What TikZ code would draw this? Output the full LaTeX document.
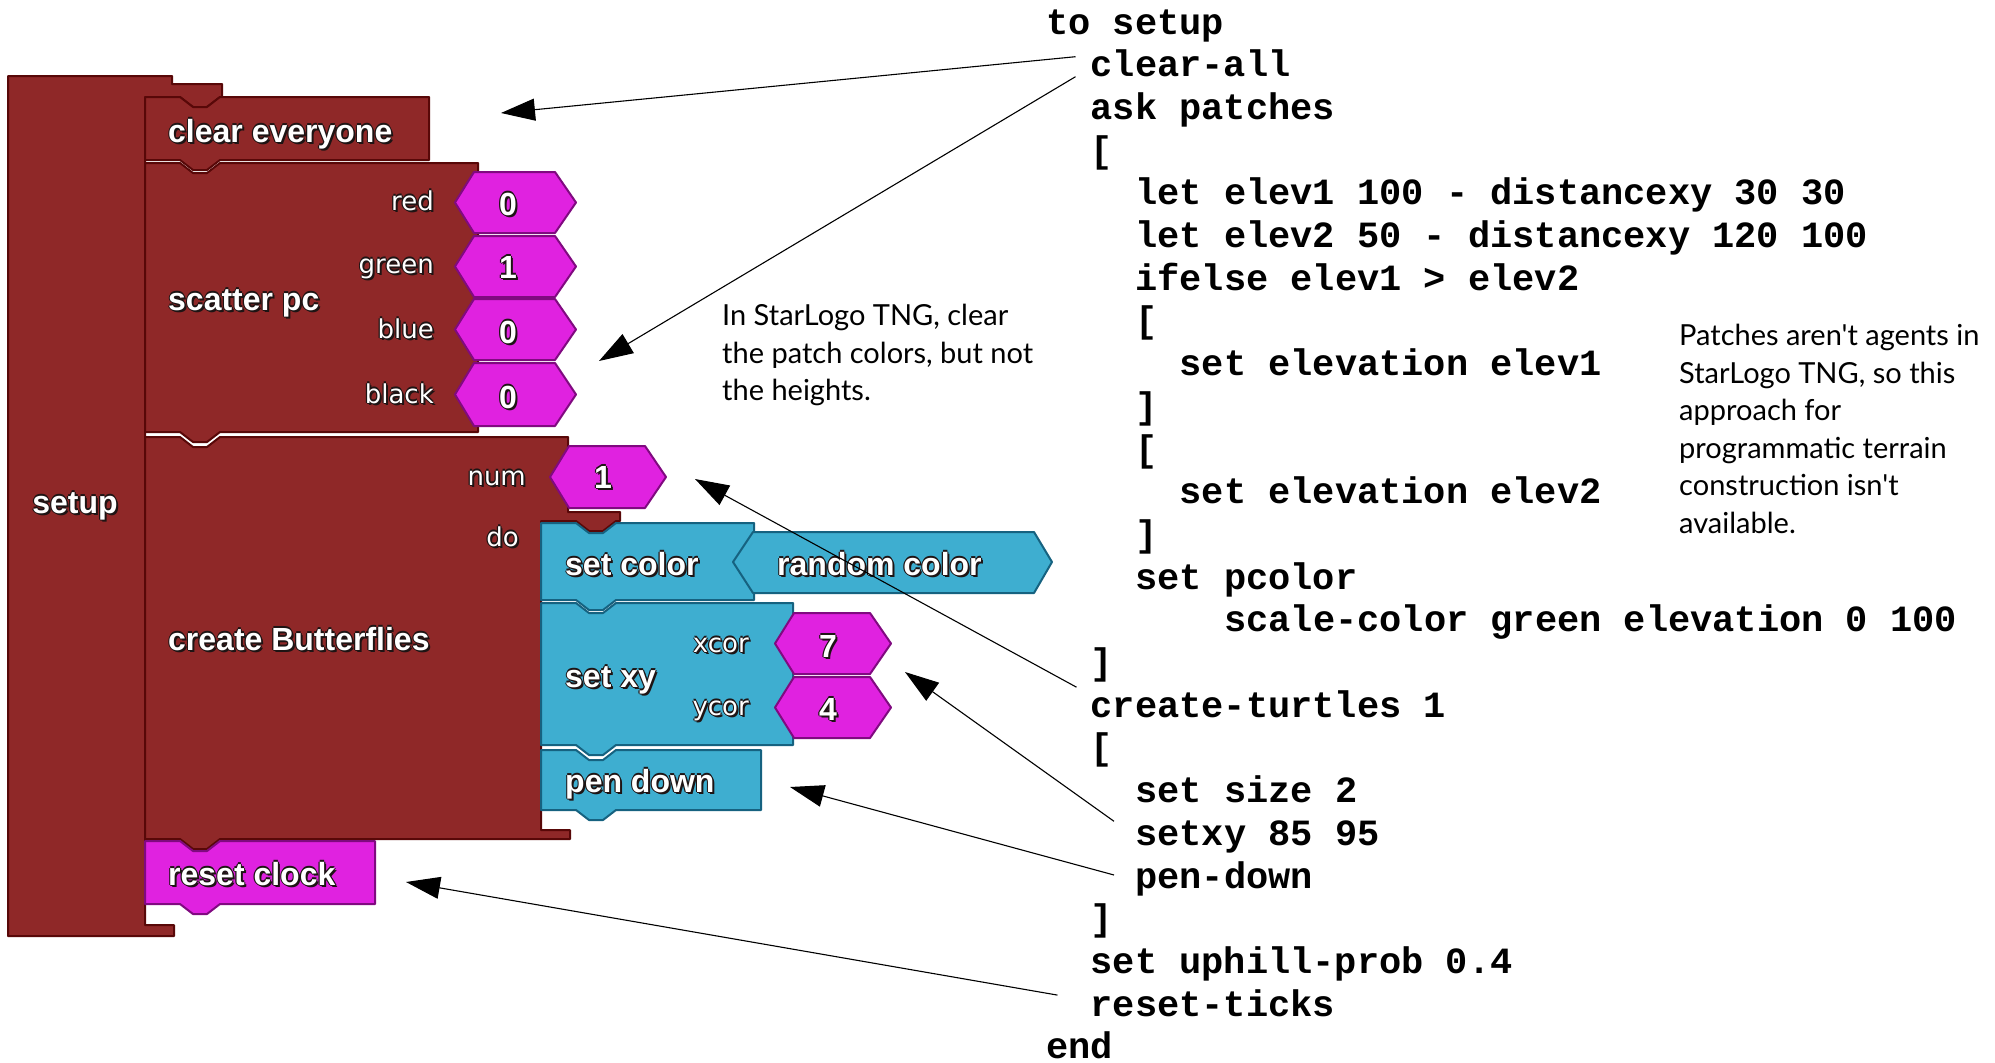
\documentclass[tikz,border=0pt]{standalone}
\usepackage{fontspec}
\usetikzlibrary{arrows.meta}

\newfontfamily\codefont{Liberation Mono}
\newfontfamily\blockfont{Liberation Sans}
\newfontfamily\labelfont{DejaVu Sans}
\newfontfamily\notefont{Lato}

\definecolor{slred}{RGB}{143,40,40}
\definecolor{slredline}{RGB}{88,8,8}
\definecolor{slpink}{RGB}{224,34,224}
\definecolor{slpinkline}{RGB}{128,10,128}
\definecolor{slteal}{RGB}{62,174,208}
\definecolor{sltealline}{RGB}{22,98,128}
\definecolor{shadowc}{RGB}{30,20,20}

% white block text with a dark rim
\newcommand\sltext[1]{%
  \makebox[0pt][l]{\hspace{2pt}\raisebox{-2pt}{\color{shadowc}#1}}%
  \makebox[0pt][l]{\hspace{-1.2pt}\color{shadowc}#1}%
  \makebox[0pt][l]{\hspace{1.2pt}\color{shadowc}#1}%
  \makebox[0pt][l]{\raisebox{1.2pt}{\color{shadowc}#1}}%
  \makebox[0pt][l]{\raisebox{-1.2pt}{\color{shadowc}#1}}%
  #1}

% style, left, top, right, bottom
\newcommand\stackblock[5]{%
  \filldraw[#1] (#2,#3) -- (#2+35,#3) -- (#2+48,#3+10) -- (#2+62,#3+10) -- (#2+75,#3)
    -- (#4,#3) -- (#4,#5) -- (#2+75,#5) -- (#2+62,#5+10) -- (#2+48,#5+10)
    -- (#2+35,#5) -- (#2,#5) -- cycle;}

% left, right, top, bottom
\newcommand\hexblock[4]{%
  \filldraw[pinkblock] (#1,{(#3+#4)/2}) -- (#1+19,#3) -- (#2-21,#3)
    -- (#2,{(#3+#4)/2}) -- (#2-21,#4) -- (#1+19,#4) -- cycle;}

\tikzset{
  redblock/.style={fill=slred, draw=slredline, line width=2pt, line join=round},
  pinkblock/.style={fill=slpink, draw=slpinkline, line width=2pt, line join=round},
  tealblock/.style={fill=slteal, draw=sltealline, line width=2pt, line join=round},
  blocklabel/.style={text=white, inner sep=0pt, font=\blockfont\bfseries\fontsize{32}{36}\selectfont},
  socketlabel/.style={text=white, inner sep=0pt, anchor=base east, font=\labelfont\fontsize{26}{30}\selectfont},
  digit/.style={blocklabel, anchor=base},
  code/.style={inner sep=0pt, anchor=base west, font=\codefont\bfseries\fontsize{37}{44}\selectfont},
  note/.style={inner sep=0pt, anchor=north west, align=left, font=\notefont\fontsize{29}{37.5}\selectfont},
  pointer/.style={-{Triangle[length=34pt,width=22pt]}, line width=1.1pt}
}

\begin{document}
\begin{tikzpicture}[x=1pt,y=-1pt]
  \useasboundingbox (0,0) rectangle (1995,1063);
  \fill[white] (0,0) rectangle (1995,1063);

  % the StarLogo blocks
  \filldraw[redblock] (8,76) -- (172,76) -- (172,84) -- (222,84) -- (222,97) -- (220,97)
    -- (207,107) -- (193,107) -- (180,97) -- (145,97) -- (145,925) -- (174,925)
    -- (174,936) -- (8,936) -- cycle;
  \stackblock{redblock}{145}{97}{429}{160}
  \stackblock{redblock}{145}{163}{478}{432}
  \filldraw[redblock] (145,437) -- (180,437) -- (193,447) -- (207,447) -- (220,437)
    -- (568,437) -- (568,512) -- (620,512) -- (620,521) -- (616,521) -- (603,531)
    -- (589,531) -- (576,521) -- (541,521) -- (541,830) -- (570,830) -- (570,839)
    -- (220,839) -- (207,849) -- (193,849) -- (180,839) -- (145,839) -- cycle;
  \stackblock{pinkblock}{145}{841}{375}{904}
  \stackblock{tealblock}{541}{523}{754}{600}
  \stackblock{tealblock}{541}{603}{793}{745}
  \stackblock{tealblock}{541}{750}{761}{810}
  \filldraw[tealblock] (733,562) -- (753,532) -- (1034,532) -- (1052,562)
    -- (1034,593) -- (753,593) -- cycle;

  \hexblock{455}{576}{172}{233}
  \hexblock{455}{576}{236}{297}
  \hexblock{455}{576}{299}{360}
  \hexblock{455}{576}{363}{426}
  \hexblock{550}{666}{446}{508}
  \hexblock{775}{891}{613}{674}
  \hexblock{775}{891}{677}{738}

  \node[blocklabel, anchor=base] (b_setup) at (75,513) {\sltext{setup}};
  \node[blocklabel, anchor=base west] (b_clear) at (168,142) {\sltext{clear everyone}};
  \node[blocklabel, anchor=base west] (b_scatter) at (168,310) {\sltext{scatter pc}};
  \node[blocklabel, anchor=base west] (b_create) at (168,650) {\sltext{create Butterflies}};
  \node[blocklabel, anchor=base west] (b_reset) at (168,885) {\sltext{reset clock}};
  \node[blocklabel, anchor=base west] (b_setcolor) at (565,575) {\sltext{set color}};
  \node[blocklabel, anchor=base west] (b_random) at (777,575) {\sltext{random color}};
  \node[blocklabel, anchor=base west] (b_setxy) at (565,687) {\sltext{set xy}};
  \node[blocklabel, anchor=base west] (b_pendown) at (565,792) {\sltext{pen down}};

  \node[socketlabel] (s_red) at (434,210) {\sltext{red}};
  \node[socketlabel] (s_green) at (434,273) {\sltext{green}};
  \node[socketlabel] (s_blue) at (434,338) {\sltext{blue}};
  \node[socketlabel] (s_black) at (434,403) {\sltext{black}};
  \node[socketlabel] (s_num) at (526,485) {\sltext{num}};
  \node[socketlabel] (s_do) at (519,546) {\sltext{do}};
  \node[socketlabel] (s_xcor) at (749,652) {\sltext{xcor}};
  \node[socketlabel] (s_ycor) at (749,715) {\sltext{ycor}};

  \node[digit] (d_red) at (508,215) {\sltext{0}};
  \node[digit] (d_green) at (508,278) {\sltext{1}};
  \node[digit] (d_blue) at (508,343) {\sltext{0}};
  \node[digit] (d_black) at (508,408) {\sltext{0}};
  \node[digit] (d_num) at (603,488) {\sltext{1}};
  \node[digit] (d_xcor) at (828,657) {\sltext{7}};
  \node[digit] (d_ycor) at (828,720) {\sltext{4}};

  % the NetLogo code, one node per line
  \foreach \i/\ind/\txt in {0/0/to setup, 1/2/clear-all, 2/2/ask patches, 3/2/{[},
      4/4/let elev1 100 - distancexy 30 30, 5/4/let elev2 50 - distancexy 120 100,
      6/4/ifelse elev1 > elev2, 7/4/{[}, 8/6/set elevation elev1, 9/4/{]}, 10/4/{[},
      11/6/set elevation elev2, 12/4/{]}, 13/4/set pcolor,
      14/8/scale-color green elevation 0 100, 15/2/{]}, 16/2/create-turtles 1,
      17/2/{[}, 18/4/set size 2, 19/4/setxy 85 95, 20/4/pen-down, 21/2/{]},
      22/2/set uphill-prob 0.4, 23/2/reset-ticks, 24/0/end}
    \node[code] (c_\i) at ({1046+22.25*\ind},{34+42.7*\i}) {\txt};

  \node[note] (n_left) at (722,304) {In StarLogo TNG, clear\\the patch colors, but not\\the heights.};
  \node[note] (n_right) at (1679,324) {Patches aren't agents in\\StarLogo TNG, so this\\approach for\\programmatic terrain\\construction isn't\\available.};

  \coordinate (t_1) at (501,113);
  \coordinate (t_2) at (599,361);
  \coordinate (t_3) at (695,479);
  \coordinate (t_4) at (905,672);
  \coordinate (t_5) at (790,787);
  \coordinate (t_6) at (406,882);

  \path[pointer]
  ([shift={(-15,-20)}]c_1.base west) edge (t_1)
  ([shift={(-15,0)}]c_1.base west) edge (t_2)
  ([shift={(-14,-30)}]c_16.base west) edge (t_3)
  ([shift={(-21,-24)}]c_19.base west) edge (t_4)
  ([shift={(-21,-13)}]c_20.base west) edge (t_5)
  ([shift={(-33,-21)}]c_23.base west) edge (t_6);
\end{tikzpicture}
\end{document}
